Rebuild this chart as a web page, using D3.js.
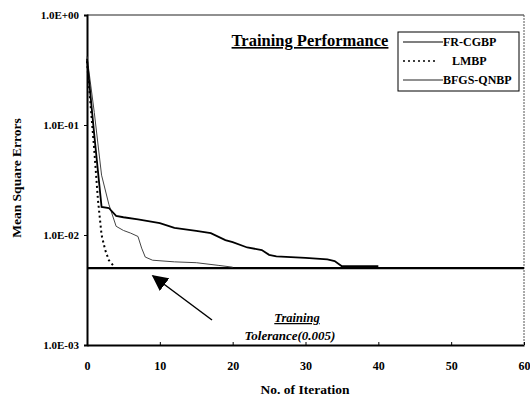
<!DOCTYPE html>
<html lang="en">
<head>
    <meta charset="UTF-8">
    <title>Training Performance</title>
    <script src="https://d3js.org/d3.v7.min.js"></script>
    <style>
        body { margin: 0; background: #fff; }
        svg { display: block; font-family: 'Liberation Serif', 'Times New Roman', serif; }
    </style>
</head>
<body>
<div id="chart"></div>
<script>
    // data
    var yTicks = [1, 0.1, 0.01, 0.001];
    var yTickLabels = ['1.0E+00', '1.0E-01', '1.0E-02', '1.0E-03'];
    var xTicks = [0, 10, 20, 30, 40, 50, 60];
    var tolerance = 0.005;

    var frIter = [0, 1, 2, 3, 4, 5, 7, 10, 12, 15, 17, 19, 20, 22, 24, 25, 26, 30, 33, 34, 35, 40];
    var frMse  = [0.40, 0.081, 0.018, 0.0176, 0.0149, 0.0145, 0.0139, 0.0128, 0.0116, 0.0109, 0.0104,
                  0.0090, 0.0086, 0.0077, 0.0073, 0.0066, 0.0064, 0.0062, 0.0060, 0.0058, 0.0052, 0.0052];

    var lmIter = [0, 1, 1.5, 2, 2.5, 3, 3.8];
    var lmMse  = [0.38, 0.059, 0.021, 0.010, 0.0073, 0.0059, 0.0051];

    var bfIter = [0, 1, 2, 3, 4, 5, 6, 7, 7.5, 8, 9, 12, 15, 18, 20];
    var bfMse  = [0.42, 0.13, 0.035, 0.019, 0.012, 0.011, 0.0104, 0.0097, 0.0076, 0.0063, 0.0059,
                  0.0057, 0.0056, 0.0053, 0.0051];

    var svgWidth = 530, svgHeight = 401;
    var plotLeft = 87, plotRight = 524, plotTop = 15, plotBottom = 345;

    var svg = d3.select('#chart').append('svg')
        .attr('width', svgWidth)
        .attr('height', svgHeight);

    var x = d3.scaleLinear().domain([0, 60]).range([plotLeft, plotRight]);
    var y = d3.scaleLog().domain([0.001, 1]).range([plotBottom, plotTop]);

    // frame: top and right edges
    svg.append('line')
        .attr('x1', plotLeft).attr('x2', plotRight).attr('y1', plotTop).attr('y2', plotTop)
        .attr('stroke', '#222').attr('stroke-width', 1.2);
    svg.append('line')
        .attr('x1', plotRight).attr('x2', plotRight).attr('y1', plotTop).attr('y2', plotBottom)
        .attr('stroke', '#555').attr('stroke-width', 1).attr('stroke-dasharray', '2,1');

    // axes
    var yAxis = svg.append('g')
        .attr('transform', 'translate(' + plotLeft + ',0)')
        .call(d3.axisLeft(y).tickValues(yTicks).tickSize(3).tickFormat(function(d, i) { return yTickLabels[i]; }));
    yAxis.select('.domain').attr('stroke-width', 2);
    yAxis.selectAll('text')
        .attr('font-size', '11px')
        .attr('font-weight', 'bold')
        .attr('font-family', 'Liberation Serif')
        .attr('dx', '-2');

    var xAxis = svg.append('g')
        .attr('transform', 'translate(0,' + plotBottom + ')')
        .call(d3.axisBottom(x).tickValues(xTicks).tickSizeInner(-3).tickSizeOuter(0).tickFormat(d3.format('d')));
    xAxis.select('.domain').attr('stroke-width', 2);
    xAxis.selectAll('text')
        .attr('font-size', '12px')
        .attr('font-weight', 'bold')
        .attr('font-family', 'Liberation Serif')
        .attr('y', 16);

    // axis titles
    svg.append('text')
        .attr('transform', 'translate(21,178) rotate(-90)')
        .attr('text-anchor', 'middle')
        .attr('font-size', '13.5px')
        .attr('font-weight', 'bold')
        .text('Mean Square Errors');
    svg.append('text')
        .attr('x', 305).attr('y', 394)
        .attr('text-anchor', 'middle')
        .attr('font-size', '13.5px')
        .attr('font-weight', 'bold')
        .text('No. of Iteration');

    // tolerance line
    svg.append('line')
        .attr('x1', x(0)).attr('x2', x(60))
        .attr('y1', y(tolerance)).attr('y2', y(tolerance))
        .attr('stroke', '#000').attr('stroke-width', 2.2);

    var line = d3.line()
        .x(function(d) { return x(d[0]); })
        .y(function(d) { return y(d[1]); });

    // BFGS-QNBP
    svg.append('path')
        .datum(d3.zip(bfIter, bfMse))
        .attr('d', line)
        .attr('fill', 'none').attr('stroke', '#444').attr('stroke-width', 1);
    // LMBP
    svg.append('path')
        .datum(d3.zip(lmIter, lmMse))
        .attr('d', line)
        .attr('fill', 'none').attr('stroke', '#000').attr('stroke-width', 2)
        .attr('stroke-dasharray', '2,3');
    // FR-CGBP
    svg.append('path')
        .datum(d3.zip(frIter, frMse))
        .attr('d', line)
        .attr('fill', 'none').attr('stroke', '#000').attr('stroke-width', 1.8);

    // title
    svg.append('text')
        .attr('x', 310).attr('y', 46)
        .attr('text-anchor', 'middle')
        .attr('font-size', '16.5px')
        .attr('font-weight', 'bold')
        .attr('text-decoration', 'underline')
        .text('Training Performance');

    // legend
    var lg = svg.append('g');
    lg.append('rect')
        .attr('x', 398).attr('y', 32).attr('width', 121).attr('height', 59)
        .attr('fill', '#fff').attr('stroke', '#000').attr('stroke-width', 1);
    var legendItems = [
        { name: 'FR-CGBP', y: 42, dash: null, color: '#000', w: 1.2, tx: 443 },
        { name: 'LMBP', y: 61, dash: '2,3', color: '#000', w: 1.5, tx: 452 },
        { name: 'BFGS-QNBP', y: 80, dash: null, color: '#222', w: 1, tx: 443 }
    ];
    legendItems.forEach(function(d) {
        lg.append('line')
            .attr('x1', 403).attr('x2', d.name === 'LMBP' ? 437 : 443)
            .attr('y1', d.y).attr('y2', d.y)
            .attr('stroke', d.color).attr('stroke-width', d.w)
            .attr('stroke-dasharray', d.dash);
        lg.append('text')
            .attr('x', d.tx).attr('y', d.y + 4)
            .attr('font-size', '12px')
            .attr('font-weight', 'bold')
            .text(d.name);
    });

    // tolerance annotation
    svg.append('text')
        .attr('x', 297).attr('y', 322)
        .attr('text-anchor', 'middle')
        .attr('font-size', '12.5px')
        .attr('font-weight', 'bold')
        .attr('font-style', 'italic')
        .attr('text-decoration', 'underline')
        .text('Training');
    svg.append('text')
        .attr('x', 290).attr('y', 340)
        .attr('text-anchor', 'middle')
        .attr('font-size', '13px')
        .attr('font-weight', 'bold')
        .attr('font-style', 'italic')
        .text('Tolerance(0.005)');

    // arrow
    svg.append('defs').append('marker')
        .attr('id', 'head')
        .attr('viewBox', '0 0 10 10')
        .attr('refX', 9).attr('refY', 5)
        .attr('markerWidth', 16).attr('markerHeight', 16)
        .attr('markerUnits', 'userSpaceOnUse')
        .attr('orient', 'auto')
        .append('path').attr('d', 'M0,0 L10,5 L0,10 Z').attr('fill', '#000');
    svg.append('line')
        .attr('x1', 212).attr('y1', 320)
        .attr('x2', 153).attr('y2', 276)
        .attr('stroke', '#000').attr('stroke-width', 1.5)
        .attr('marker-end', 'url(#head)');
</script>
</body>
</html>
